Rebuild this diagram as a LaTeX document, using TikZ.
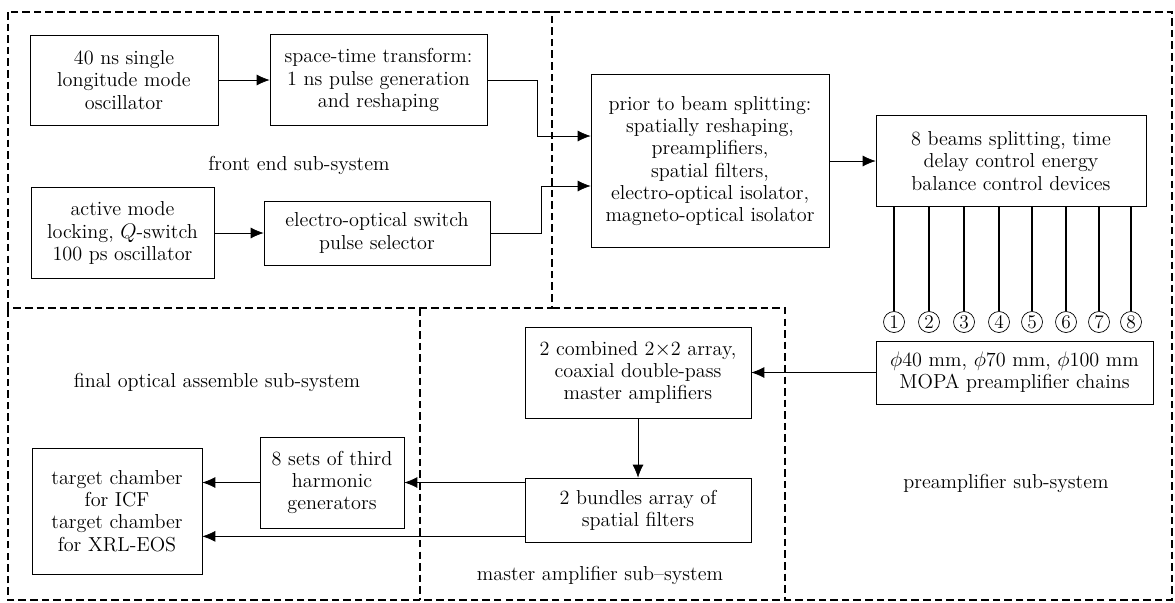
\documentclass[tikz,border=0pt]{standalone}
\usetikzlibrary{arrows.meta}
\begin{document}
\begin{tikzpicture}[x=0.02cm, y=-0.02cm, font=\fontsize{11.5}{12.6}\selectfont,
		box/.style={draw, align=center, inner sep=2pt},
		arr/.style={-{Latex[length=2.6mm, width=2.2mm]}},
		region/.style={thick, dash pattern=on 4.3pt off 2.3pt},
		num/.style={circle, draw, inner sep=0pt, minimum size=0.42cm, font=\fontsize{11}{12}\selectfont}]
		\useasboundingbox (0,0) rectangle (1175,602);
		
		% sub-system regions
		\draw[region] (8,12) rectangle (552,308);
		\draw[region] (552,12) -- (1172,12) -- (1172,600) -- (8,600) -- (8,308);
		\draw[region] (552,308) -- (785,308) -- (785,600);
		\draw[region] (420,308) -- (420,600);
		
		% front end
		\node[box, minimum width=3.76cm, minimum height=1.8cm] (osc1) at (124,80)
			{40 ns single\\longitude mode\\oscillator};
		\node[box, minimum width=4.34cm, minimum height=1.82cm] (stt) at (378.5,80)
			{space-time transform:\\1 ns pulse generation\\and reshaping};
		\node[box, minimum width=3.66cm, minimum height=1.82cm] (osc2) at (122.5,233)
			{active mode\\locking, $Q$-switch\\100 ps oscillator};
		\node[box, minimum width=4.52cm, minimum height=1.28cm] (eos) at (377,233)
			{electro-optical switch\\pulse selector};
		\node (lfront) at (299,165) {front end sub-system};
		
		% preamplifier
		\node[box, minimum width=4.76cm, minimum height=3.46cm] (prior) at (710,161)
			{prior to beam splitting:\\spatially reshaping,\\preamplifiers,\\spatial filters,\\electro-optical isolator,\\magneto-optical isolator};
		\node[box, minimum width=5.4cm, minimum height=1.82cm] (beams8) at (1011,161)
			{8 beams splitting, time\\delay control energy\\balance control devices};
		\node[box, minimum width=5.54cm, minimum height=1.26cm] (mopa) at (1014.5,372.5)
			{$\phi$40 mm, $\phi$70 mm, $\phi$100 mm\\MOPA preamplifier chains};
		\foreach \x [count=\i] in {894,929,964,999,1032,1066,1099,1131} {
			\node[num] (c\i) at (\x,322) {\i};
			\draw[semithick] (c\i.north) -- (c\i.north |- beams8.south);
		}
		\node (lpre) at (1006,483) {preamplifier sub-system};
		
		% master amplifier
		\node[box, minimum width=4.52cm, minimum height=1.82cm] (master) at (638,372.5)
			{2 combined 2$\times$2 array,\\coaxial double-pass\\master amplifiers};
		\node[box, minimum width=4.52cm, minimum height=1.28cm] (filters) at (638,510)
			{2 bundles array of\\spatial filters};
		\node (lmaster) at (600,575) {master amplifier sub--system};
		
		% final optical assemble
		\node[box, minimum width=2.88cm, minimum height=1.82cm] (thg) at (332,482.5)
			{8 sets of third\\harmonic\\generators};
		\node[box, minimum width=3.4cm, minimum height=2.52cm] (target) at (117,511)
			{target chamber\\for ICF\\target chamber\\for XRL-EOS};
		\node (lfinal) at (217,382) {final optical assemble sub-system};
		
		% beam path
		\draw[arr] (osc1) -- (stt);
		\draw[arr] (osc2.east |- eos.west) -- (eos);
		\draw[arr] (stt.east) -- ++(50,0) |- ([yshift=0.5cm]prior.west);
		\draw[arr] (eos.east) -- ++(51,0) |- ([yshift=-0.5cm]prior.west);
		\draw[arr] (prior.east) -- (prior.east -| beams8.west);
		\draw[arr] (mopa.west) -- (master.east);
		\draw[arr] (master) -- (filters);
		\draw[arr] (filters.west |- thg.east) -- (thg.east);
		\draw[arr] (thg.west) -- (thg.west -| target.east);
		\draw[arr] ([yshift=0.12cm]filters.south west) -- ([yshift=0.12cm]filters.south west -| target.east);
	\end{tikzpicture}
\end{document}
